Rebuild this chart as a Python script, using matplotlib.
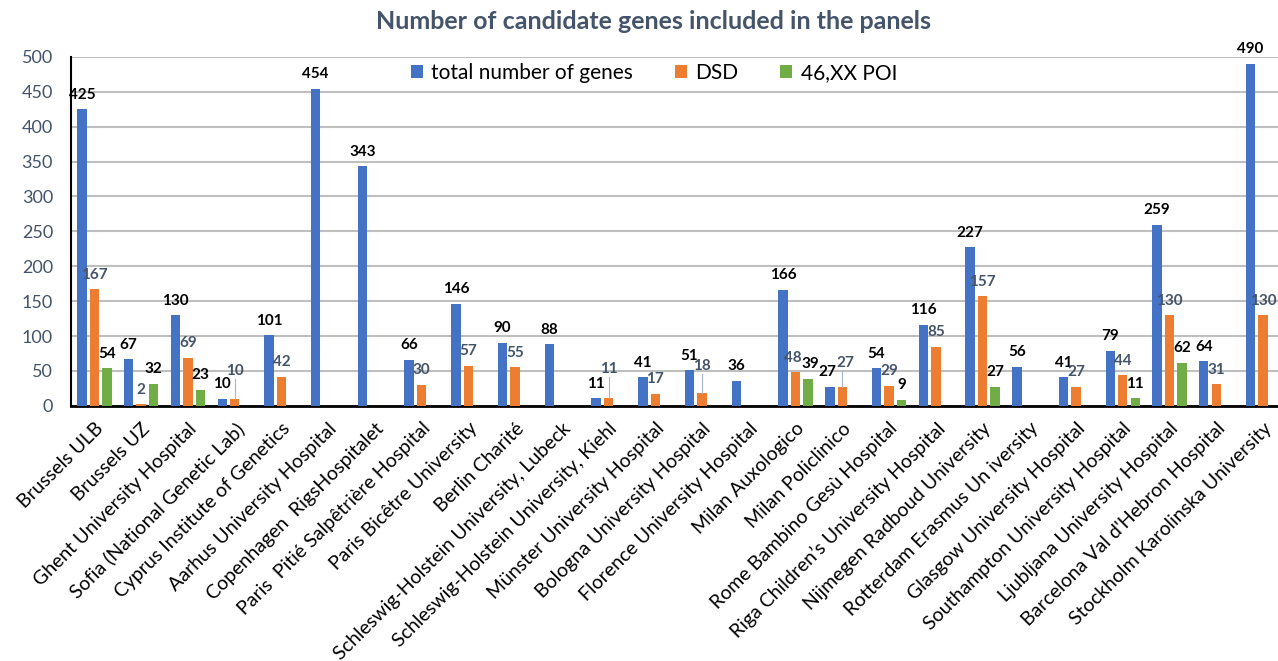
import numpy as np
import matplotlib.pyplot as plt

plt.rcParams['font.family'] = ['Lato', 'DejaVu Sans']

hospitals = ['Brussels ULB', 'Brussels UZ', 'Ghent University Hospital',
             'Sofia (National Genetic Lab)', 'Cyprus Institute of Genetics',
             'Aarhus University Hospital', 'Copenhagen  RigsHospitalet',
             'Paris  Pitié Salpêtrière Hospital', 'Paris Bicêtre University',
             'Berlin Charité', 'Schleswig-Holstein University, Lubeck',
             'Schleswig-Holstein University, Kiehl', 'Münster University Hospital',
             'Bologna University Hospital', 'Florence University Hospital',
             'Milan Auxologico', 'Milan Policlinico', 'Rome Bambino Gesù Hospital',
             'Riga Children\u2019s University Hospital', 'Nijmegen Radboud University',
             'Rotterdam Erasmus Un iversity', 'Glasgow University Hospital',
             'Southampton University Hospital', 'Ljubljana University Hospital',
             "Barcelona Val d'Hebron Hospital", 'Stockholm Karolinska University']

total = [425, 67, 130, 10, 101, 454, 343, 66, 146, 90, 88, 11, 41, 51, 36,
         166, 27, 54, 116, 227, 56, 41, 79, 259, 64, 490]
dsd = [167, 2, 69, 10, 42, None, None, 30, 57, 55, None, 11, 17, 18, None,
       48, 27, 29, 85, 157, None, 27, 44, 130, 31, 130]
poi = [54, 32, 23, None, None, None, None, None, None, None, None, None, None,
       None, None, 39, None, 9, None, 27, None, None, 11, 62, None, None]

blue = '#4472C4'
orange = '#ED7D31'
green = '#70AD47'
slate = '#44546A'

fig = plt.figure(figsize=(12.78, 6.61), dpi=100)
ax = fig.add_axes([0.0556, 0.386, 0.9444, 0.528])

x = np.arange(len(hospitals))
w = 0.2
off = 0.267

def val(v):
    return np.nan if v is None else v

ax.bar(x - off, total, w, color=blue, label='total number of genes', zorder=3)
ax.bar(x, [val(v) for v in dsd], w, color=orange, label='DSD', zorder=3)
ax.bar(x + off, [val(v) for v in poi], w, color=green, label='46,XX POI', zorder=3)

# small sideways nudges where neighbouring labels crowd each other
nudge_total = {16: -2}
nudge_dsd = {15: -2, 16: 2}
nudge_poi = {15: 1.5}

for i, v in enumerate(total):
    ax.annotate(str(v), (x[i] - off, v), xytext=(nudge_total.get(i, 0), 10.5),
                textcoords='offset points', ha='center', va='center',
                fontsize=11, fontweight='bold', color='black')

# DSD labels lifted with a thin leader line (offsets in points)
lifted = {3: 20, 11: 21, 13: 19.5, 16: 17}
px_per_unit = 349 / 500
for i, v in enumerate(dsd):
    if v is None:
        continue
    dy = lifted.get(i, 10.5)
    if i in lifted:
        top = v + (dy * 100 / 72 - 8) / px_per_unit
        ax.plot([x[i], x[i]], [v, top], color='#A6B4CC', lw=0.8, zorder=4)
    ax.annotate(str(v), (x[i], v), xytext=(nudge_dsd.get(i, 0), dy),
                textcoords='offset points', ha='center', va='center',
                fontsize=11, fontweight='bold', color=slate)

for i, v in enumerate(poi):
    if v is None:
        continue
    ax.annotate(str(v), (x[i] + off, v), xytext=(nudge_poi.get(i, 0), 10.5),
                textcoords='offset points', ha='center', va='center',
                fontsize=11, fontweight='bold', color='black')

ax.set_xlim(-0.5, 25.32)
ax.set_ylim(0, 500)
ax.set_yticks(range(0, 501, 50))
ax.yaxis.grid(True, color='#BFBFBF', lw=1.5, zorder=0)
ax.set_axisbelow(True)
ax.tick_params(axis='y', length=0, labelsize=13, labelcolor=slate, pad=13)
ax.tick_params(axis='x', length=0, pad=10)
ax.set_xticks(x)
ax.set_xticklabels(hospitals, rotation=45, ha='right', rotation_mode='anchor',
                   fontsize=14)
for s in ['top', 'right']:
    ax.spines[s].set_visible(False)
ax.spines['left'].set_linewidth(1.5)
ax.spines['bottom'].set_linewidth(2)

ax.legend(loc='center', bbox_to_anchor=(0.483, 0.954), ncol=3, frameon=False,
          fontsize=15, handlelength=0.58, handleheight=0.58, columnspacing=2.0,
          handletextpad=0.4, borderpad=0)

fig.text(0.511, 0.968, 'Number of candidate genes included in the panels',
         ha='center', va='center', fontsize=18, fontweight='bold', color=slate)

plt.savefig('out.png')
